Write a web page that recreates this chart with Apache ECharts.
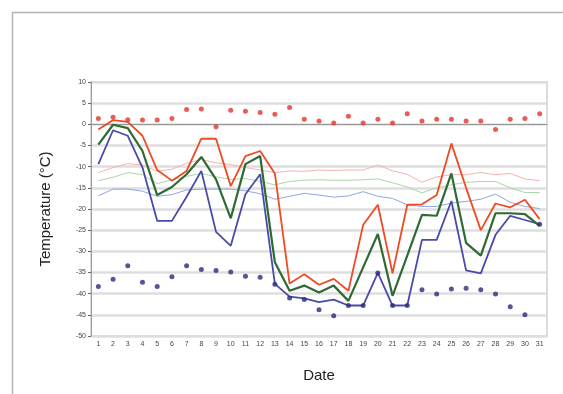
<!DOCTYPE html>
<html>
<head>
<meta charset="utf-8">
<script src="https://cdn.jsdelivr.net/npm/echarts@6/dist/echarts.min.js"></script>
<style>
  html, body { margin: 0; padding: 0; background: #fff; }
  #chart { width: 563px; height: 394px; }
</style>
</head>
<body>
<div id="chart"></div>
<script>
// days of the month
const dates = [];
for (let d = 1; d <= 31; d++) dates.push(String(d));

// daily extremes (dots)
const recordHigh = [1.4, 1.7, 1.1, 1.0, 1.0, 1.4, 3.5, 3.6, -0.6, 3.3, 3.1, 2.8, 2.4, 4.0, 1.2, 0.8, 0.3, 1.9, 0.3, 1.2, 0.3, 2.5, 0.8, 1.2, 1.2, 0.8, 0.8, -1.2, 1.2, 1.4, 2.5];
const recordLow = [-38.3, -36.6, -33.4, -37.3, -38.3, -36.0, -33.4, -34.3, -34.5, -34.9, -35.9, -36.1, -37.8, -41.0, -41.4, -43.8, -45.2, -42.8, -42.8, -35.1, -42.8, -42.8, -39.1, -40.1, -38.9, -38.7, -39.1, -40.1, -43.1, -45.0, -23.6];

// observed max / mean / min
const maxTemp = [-1.2, 1.0, 0.6, -2.7, -10.8, -13.3, -11.0, -3.4, -3.4, -14.6, -7.5, -6.3, -11.6, -37.6, -35.4, -37.9, -36.5, -39.3, -23.8, -19.0, -35.2, -19.0, -18.9, -16.7, -4.5, -15.0, -25.0, -18.7, -19.6, -17.8, -22.4];
const meanTemp = [-4.8, -0.1, -0.9, -6.3, -16.7, -14.8, -11.8, -7.7, -13.0, -22.2, -9.4, -7.5, -32.6, -39.3, -38.1, -39.7, -38.1, -41.7, -33.8, -25.9, -40.5, -31.0, -21.4, -21.6, -11.6, -28.0, -31.0, -21.0, -21.0, -21.2, -24.0];
const minTemp = [-9.4, -1.4, -2.7, -10.2, -22.8, -22.8, -17.1, -11.0, -25.4, -28.7, -16.5, -11.8, -37.7, -40.7, -41.1, -42.0, -41.4, -42.8, -42.8, -35.1, -42.8, -42.8, -27.3, -27.3, -18.1, -34.5, -35.2, -26.1, -21.6, -22.6, -23.6];

// normals (thin lines)
const normalMax = [-11.4, -10.2, -9.3, -9.6, -11.1, -10.6, -9.2, -8.3, -9.1, -9.5, -10.2, -10.8, -11.4, -11.0, -11.1, -10.8, -10.9, -10.8, -10.8, -9.6, -11.0, -11.8, -13.7, -12.4, -11.9, -11.9, -11.4, -11.9, -11.6, -12.9, -13.3];
const normalMean = [-13.3, -12.5, -11.4, -11.9, -14.0, -13.1, -12.3, -11.6, -12.4, -13.0, -12.8, -13.5, -14.3, -13.5, -13.2, -13.1, -13.2, -13.2, -13.1, -12.9, -13.8, -14.8, -16.2, -15.0, -14.3, -13.7, -13.5, -13.5, -15.0, -16.1, -16.1];
const normalMin = [-16.9, -15.3, -15.3, -15.8, -17.0, -16.6, -15.5, -15.3, -15.3, -15.3, -15.7, -16.4, -17.7, -17.0, -16.3, -16.7, -17.2, -16.9, -15.9, -17.0, -17.5, -19.0, -19.4, -19.4, -18.6, -18.2, -17.7, -16.5, -18.4, -19.4, -19.9];

const yTicks = [10, 5, 0, -5, -10, -15, -20, -25, -30, -35, -40, -45, -50];

const chart = echarts.init(document.getElementById('chart'), null, { renderer: 'canvas' });

function line(data, color, width, z) {
    return {
        type: 'line', data: data, symbol: 'none', z: z,
        lineStyle: { color: color, width: width },
        emphasis: { disabled: true }
    };
}

function dots(data, color) {
    return {
        type: 'scatter', data: data, symbolSize: 5, z: 10,
        itemStyle: { color: color }
    };
}

chart.setOption({
    animation: false,
    backgroundColor: '#fff',
    textStyle: { fontFamily: 'Liberation Sans' },
    graphic: [{
        type: 'rect',
        shape: { x: 12.5, y: 12.5, width: 600, height: 420 },
        style: { fill: 'none', stroke: '#b4b4b4', lineWidth: 1.5 }
    }],
    grid: {
        left: 91, right: 16, top: 82, bottom: 58,
        show: true, borderColor: '#dcdcdc', borderWidth: 2, backgroundColor: 'transparent'
    },
    xAxis: {
        type: 'category',
        data: dates,
        boundaryGap: true,
        name: 'Date',
        nameLocation: 'middle',
        nameGap: 32,
        nameTextStyle: { fontSize: 15, color: '#222', fontFamily: 'Liberation Sans' },
        axisLine: { lineStyle: { color: '#999', width: 1 } },
        axisTick: { alignWithLabel: true, length: 4, lineStyle: { color: '#666' } },
        axisLabel: { fontSize: 7, color: '#444', margin: 5, interval: 0 },
        splitLine: { show: false }
    },
    yAxis: {
        type: 'value',
        min: -50, max: 10, interval: 5,
        name: 'Temperature (°C)',
        nameLocation: 'middle',
        nameGap: 38,
        nameTextStyle: { fontSize: 15, color: '#222', fontFamily: 'Liberation Sans' },
        axisLine: { show: true, lineStyle: { color: '#999', width: 1 } },
        axisTick: { show: true, length: 3, lineStyle: { color: '#666' } },
        axisLabel: { fontSize: 7, color: '#444', margin: 5 },
        splitLine: { lineStyle: { color: '#dedede', width: 2.5 } }
    },
    series: [
        line(normalMax, '#f4b4b0', 1, 2),
        line(normalMean, '#a8d8a4', 1, 2),
        line(normalMin, '#90a6e0', 1, 2),
        line(minTemp, '#4a4aa8', 1.8, 3),
        line(meanTemp, '#2e6a32', 2.2, 4),
        line(maxTemp, '#ee4a24', 1.8, 5),
        dots(recordHigh, '#e4352a'),
        dots(recordLow, '#2a2a7a')
    ]
});
</script>
</body>
</html>
